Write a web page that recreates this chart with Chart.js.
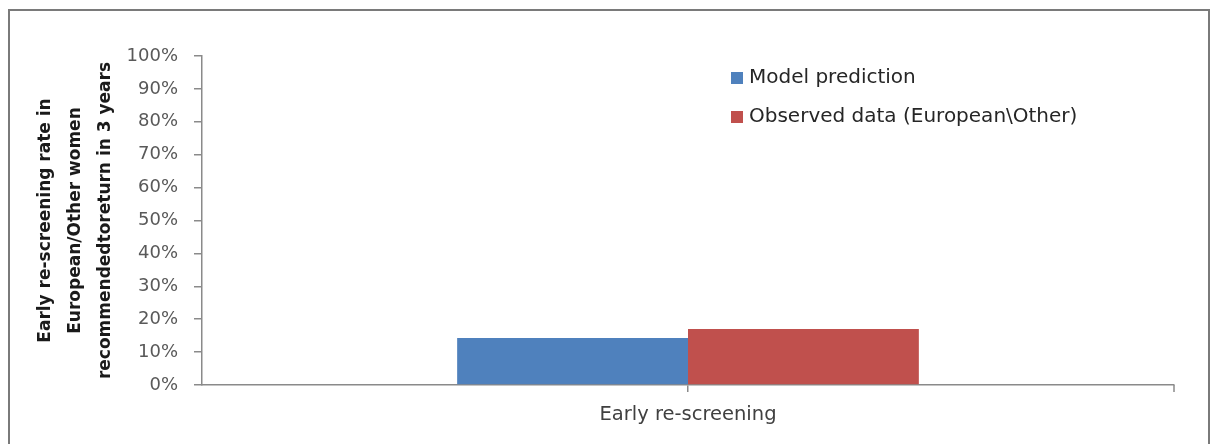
<!DOCTYPE html>
<html>
<head>
<meta charset="utf-8">
<script src="https://cdn.jsdelivr.net/npm/chart.js@4"></script>
<style>
  html, body { margin: 0; padding: 0; background: #fff; }
  #wrap { position: relative; width: 1219px; height: 444px; overflow: hidden; }
  #frame { position: absolute; left: 8px; top: 9px; width: 1202px; height: 460px; border: 2px solid #7a7a7a; box-sizing: border-box; }
  canvas { position: absolute; left: 0; top: 0; }
</style>
</head>
<body>
<div id="wrap">
  <div id="frame"></div>
  <canvas id="c" width="1219" height="444"></canvas>
</div>
<script>
const categories = ["Early re-screening"];
const seriesNames = ["Model prediction", "Observed data (European\\Other)"];
const modelPrediction = [14.3];
const observedData = [17.0];
const seriesColors = ["#4F81BD", "#C0504D"];
const yTitle = ["Early re-screening rate in", "European/Other women", "recommendedtoreturn in 3 years"];

const FONT = "'DejaVu Sans', sans-serif";

const inPlotLegend = {
  id: 'inPlotLegend',
  afterDraw(chart) {
    const ctx = chart.ctx;
    const x0 = chart.chartArea.left + 529;
    const y0 = chart.chartArea.top + 22;
    ctx.save();
    ctx.font = "20px " + FONT;
    ctx.textBaseline = 'middle';
    chart.data.datasets.forEach((ds, i) => {
      const y = y0 + i * 39;
      ctx.fillStyle = ds.backgroundColor;
      ctx.fillRect(x0, y - 6, 12, 12);
      ctx.fillStyle = '#262626';
      ctx.fillText(ds.label, x0 + 18, y);
    });
    ctx.restore();
  }
};

const endTick = {
  id: 'endTick',
  afterDraw(chart) {
    const ctx = chart.ctx;
    const a = chart.chartArea;
    ctx.save();
    ctx.strokeStyle = '#8a8a8a';
    ctx.lineWidth = 1.5;
    ctx.beginPath();
    ctx.moveTo(a.right, a.bottom);
    ctx.lineTo(a.right, a.bottom + 7);
    ctx.stroke();
    ctx.restore();
  }
};

new Chart(document.getElementById('c'), {
  type: 'bar',
  data: {
    labels: categories,
    datasets: [
      { label: seriesNames[0], data: modelPrediction, backgroundColor: seriesColors[0] },
      { label: seriesNames[1], data: observedData, backgroundColor: seriesColors[1] }
    ]
  },
  options: {
    responsive: false,
    animation: false,
    devicePixelRatio: 1,
    layout: { padding: { left: 31, right: 45, top: 56, bottom: 0 } },
    plugins: { legend: { display: false }, tooltip: { enabled: false } },
    datasets: { bar: { categoryPercentage: 0.475, barPercentage: 1.0 } },
    scales: {
      x: {
        afterFit(s) { s.height = 59; },
        grid: { offset: false, drawOnChartArea: false, tickLength: 7, color: '#8a8a8a', lineWidth: 1.5 },
        border: { color: '#8a8a8a', width: 1.5 },
        ticks: { padding: 11, color: '#404040', font: { family: FONT, size: 19.5 } }
      },
      y: {
        min: 0, max: 100,
        afterFit(s) { s.width = 171; },
        grid: { drawOnChartArea: false, tickLength: 8, color: '#8a8a8a', lineWidth: 1.5 },
        border: { color: '#8a8a8a', width: 1.5 },
        ticks: {
          stepSize: 10, padding: 16, color: '#595959',
          font: { family: FONT, size: 18 },
          callback: v => v + '%'
        },
        title: {
          display: true, text: yTitle, color: '#1a1a1a',
          padding: { top: 0, bottom: 0 },
          font: { family: FONT, size: 17, weight: 'bold', lineHeight: 1.76 }
        }
      }
    }
  },
  plugins: [inPlotLegend, endTick]
});
</script>
</body>
</html>
